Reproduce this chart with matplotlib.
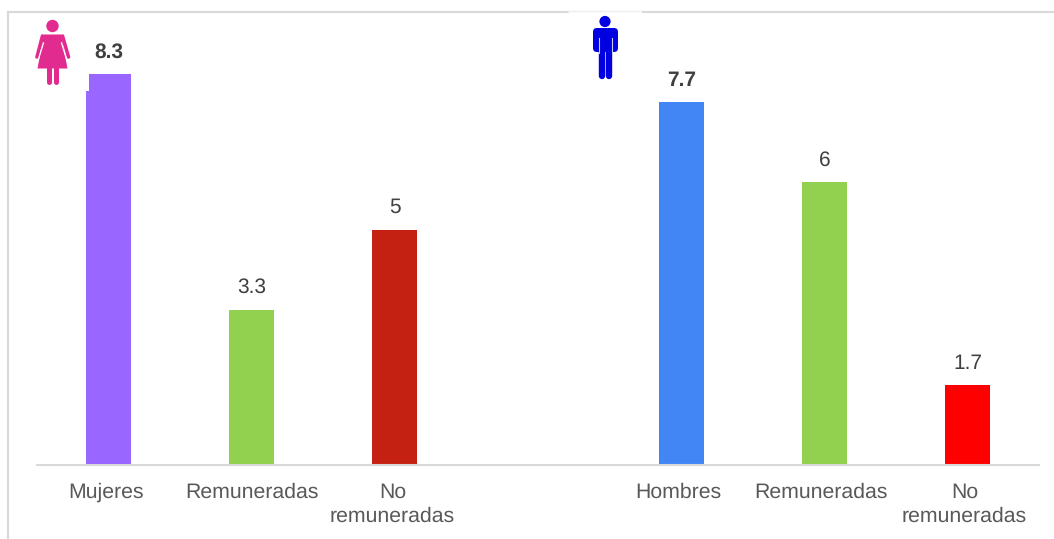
#!/usr/bin/env python3
"""Paid and unpaid work bars for women and men, with the two figure icons."""
import matplotlib
matplotlib.use('Agg')
import matplotlib.pyplot as plt
from matplotlib.patches import Circle, Polygon, FancyBboxPatch, Rectangle
from matplotlib.transforms import ScaledTranslation

plt.rcParams['font.family'] = ['Liberation Sans', 'DejaVu Sans']
plt.rcParams['text.hinting'] = 'none'

# Chart data (the empty category separates the two groups)
categories = ['Mujeres', 'Remuneradas', 'No\nremuneradas', '', 'Hombres', 'Remuneradas', 'No\nremuneradas']
values = [8.3, 3.3, 5, None, 7.7, 6, 1.7]
value_labels = ['8.3', '3.3', '5', '', '7.7', '6', '1.7']
bar_colors = ['#9966FF', '#92D050', '#C42112', 'none', '#4285F4', '#92D050', '#FF0000']
bold_labels = ['8.3', '7.7']

W, H = 1054, 539
BASE_Y = 465
TOP_Y = 12
PX_PER_UNIT = 47.1
GRID = '#D9D9D9'
# Tick labels sit a little left of their bars in the original (pixels)
label_shift = [-2.5, 0, -2.5, -3, -3, -3]

fig = plt.figure(figsize=(W / 100, H / 100), dpi=100)

# Pixel overlay for the frame lines and icons
over = fig.add_axes([0, 0, 1, 1], zorder=3)
over.set_xlim(0, W)
over.set_ylim(H, 0)
over.axis('off')

ax = fig.add_axes([37 / W, 1 - BASE_Y / H, (1039 - 37) / W, (BASE_Y - TOP_Y) / H], zorder=2)
ax.patch.set_alpha(0)
ax.set_xlim(-0.5, 6.5)
ax.set_ylim(0, (BASE_Y - TOP_Y) / PX_PER_UNIT)

for i, (v, c, lab) in enumerate(zip(values, bar_colors, value_labels)):
    if v is None:
        continue
    ax.bar(i, v, width=0.314, color=c, linewidth=0)
    ax.annotate(lab, (i, v), xytext=(0, 12), textcoords='offset pixels', ha='center', va='bottom',
                fontsize=15, color='#404040',
                fontweight='bold' if lab in bold_labels else 'normal')

ax.set_xticks([i for i, c in enumerate(categories) if c])
ax.set_xticklabels([c for c in categories if c], fontsize=15.3, color='#595959', linespacing=1.28, va='top')
ax.tick_params(axis='x', length=0, pad=12.5)
for tl, dx in zip(ax.get_xticklabels(), label_shift):
    tl.set_transform(tl.get_transform() + ScaledTranslation(dx / 100, 0, fig.dpi_scale_trans))
ax.set_yticks([])
for side in ['top', 'left', 'right']:
    ax.spines[side].set_visible(False)
ax.spines['bottom'].set_color(GRID)
ax.spines['bottom'].set_linewidth(1.5)

# Frame lines left over from the slide
over.plot([8, 8], [12, H], color=GRID, lw=1.5)
over.plot([8, 568], [12, 12], color=GRID, lw=1.5)
over.plot([568, 643], [11, 11], color='#EEEEEE', lw=1)
over.plot([643, W], [12, 12], color=GRID, lw=1.5)

# Notch at the top left of the purple bar
over.add_patch(Rectangle((85, 73), 4, 18, color='white', lw=0))
over.add_patch(Rectangle((89, 74), 6, 17, color='#9966FF', lw=0))

# Woman icon
PINK = '#E22B8F'
over.add_patch(Circle((52.5, 26), 6.2, color=PINK, lw=0))
over.add_patch(Polygon([(44, 34.5), (61, 34.5), (67.5, 68.5), (37.5, 68.5)], closed=True, color=PINK, lw=0))
over.plot([42.5, 37], [36, 57], color=PINK, lw=2.6, solid_capstyle='round')
over.plot([62.5, 68.5], [36, 57], color=PINK, lw=2.6, solid_capstyle='round')
over.plot([43.5, 38.5], [43, 59], color='white', lw=0.9)
over.plot([61.5, 66.5], [43, 59], color='white', lw=0.9)
over.plot([49, 49], [68, 82], color=PINK, lw=3.6, solid_capstyle='round')
over.plot([56, 56], [68, 82], color=PINK, lw=3.6, solid_capstyle='round')

# Man icon
BLUE = '#0000E0'
over.add_patch(Circle((605, 21.5), 5.6, color=BLUE, lw=0))
over.add_patch(FancyBboxPatch((595, 30), 21, 20, boxstyle='round,pad=2,rounding_size=4', color=BLUE, lw=0))
over.plot([601.5, 601.5], [50, 76], color=BLUE, lw=4.6, solid_capstyle='round')
over.plot([609, 609], [50, 76], color=BLUE, lw=4.6, solid_capstyle='round')
over.plot([598.7, 598.7], [38, 53], color='#C8C8FF', lw=0.8)
over.plot([612.3, 612.3], [38, 53], color='#C8C8FF', lw=0.8)

fig.savefig('out.png', dpi=100, facecolor='white')
